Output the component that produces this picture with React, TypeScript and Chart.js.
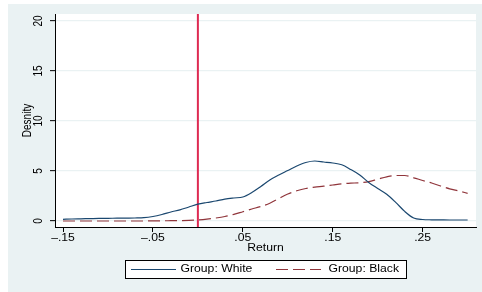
import { useEffect, useRef } from "react";
import { Chart, registerables } from "chart.js";

Chart.register(...registerables);

// ---- data ----
const returns = [
  -0.15, -0.14, -0.13, -0.12, -0.11, -0.1, -0.09, -0.08, -0.07, -0.06,
  -0.05, -0.04, -0.03, -0.02, -0.01, 0.0, 0.01, 0.02, 0.03, 0.04,
  0.05, 0.06, 0.07, 0.08, 0.09, 0.1, 0.11, 0.12, 0.13, 0.14,
  0.15, 0.16, 0.17, 0.18, 0.19, 0.2, 0.21, 0.22, 0.23, 0.24,
  0.25, 0.26, 0.27, 0.28, 0.29, 0.3,
];
const densityWhite = [
  0.17, 0.2, 0.22, 0.24, 0.26, 0.27, 0.28, 0.29, 0.3, 0.33,
  0.45, 0.65, 0.9, 1.12, 1.4, 1.68, 1.85, 2.0, 2.18, 2.3,
  2.4, 2.85, 3.45, 4.1, 4.6, 5.05, 5.5, 5.85, 6.0, 5.9,
  5.8, 5.62, 5.15, 4.6, 3.85, 3.25, 2.67, 1.86, 0.96, 0.3,
  0.15, 0.12, 0.11, 0.1, 0.1, 0.1,
];
const densityBlack = [
  0.0, 0.0, 0.0, 0.0, 0.0, 0.0, 0.0, 0.0, 0.0, 0.0,
  0.01, 0.02, 0.03, 0.04, 0.06, 0.1, 0.18, 0.3, 0.45, 0.66,
  0.93, 1.2, 1.45, 1.78, 2.25, 2.7, 3.02, 3.25, 3.38, 3.48,
  3.6, 3.72, 3.78, 3.83, 3.93, 4.18, 4.42, 4.55, 4.55, 4.32,
  4.05, 3.8, 3.5, 3.22, 3.0, 2.77,
];
const seriesLabels = ["Group: White", "Group: Black"];
const xTickValues = [-0.15, -0.05, 0.05, 0.15, 0.25];
const xTickLabels = ["\u2013.15", "\u2013.05", ".05", ".15", ".25"];
const yTickValues = [0, 5, 10, 15, 20];
const yTickLabels = ["0", "5", "10", "15", "20"];
const referenceLineX = [0];
const xTitle = "Return";
const yTitle = "Desnity";

// ---- styles ----
const NAVY = "#1a476f";
const MAROON = "#90353b";
const REDLINE = "#de2a52";
const BG = "#eaf2f3";
const FONT = "'Liberation Sans', Arial, sans-serif";
const SX = 1.22;

function drawText(
  ctx: CanvasRenderingContext2D,
  text: string,
  x: number,
  y: number,
  size: number,
  align: CanvasTextAlign,
  rotated = false
) {
  ctx.save();
  ctx.translate(x, y);
  if (rotated) {
    ctx.rotate(-Math.PI / 2);
    ctx.scale(1, SX);
  } else {
    ctx.scale(SX, 1);
  }
  ctx.font = `${size}px ${FONT}`;
  ctx.fillStyle = "#000";
  ctx.textAlign = align;
  ctx.textBaseline = "middle";
  ctx.fillText(text, 0, 0);
  ctx.restore();
}

const backgroundPlugin = {
  id: "stataBackground",
  beforeDraw(chart: any) {
    const { ctx, chartArea: a, width, height } = chart;
    ctx.save();
    ctx.fillStyle = "#ffffff";
    ctx.fillRect(0, 0, width, height);
    ctx.fillStyle = BG;
    ctx.fillRect(8, 4, width - 8, height - 4);
    ctx.fillStyle = "#ffffff";
    ctx.fillRect(a.left, a.top, a.right - a.left, a.bottom - a.top);
    ctx.restore();
  },
};

const refLinePlugin = {
  id: "refLine",
  beforeDatasetsDraw(chart: any) {
    const { ctx, chartArea: a, scales } = chart;
    ctx.save();
    ctx.strokeStyle = REDLINE;
    ctx.lineWidth = 2;
    referenceLineX.forEach((v) => {
      const x = scales.x.getPixelForValue(v);
      ctx.beginPath();
      ctx.moveTo(x, a.top);
      ctx.lineTo(x, a.bottom);
      ctx.stroke();
    });
    ctx.restore();
  },
};

const textPlugin = {
  id: "stataText",
  afterDraw(chart: any) {
    const { ctx, chartArea: a, scales } = chart;
    // x tick labels
    xTickValues.forEach((v, i) => {
      drawText(ctx, xTickLabels[i], scales.x.getPixelForValue(v), a.bottom + 11.5, 10, "center");
    });
    // y tick labels (rotated)
    yTickValues.forEach((v, i) => {
      drawText(ctx, yTickLabels[i], a.left - 16.5, scales.y.getPixelForValue(v), 10, "center", true);
    });
    const cx = (a.left + a.right) / 2;
    drawText(ctx, xTitle, cx, a.bottom + 21.5, 10, "center");
    drawText(ctx, yTitle, a.left - 27.5, (a.top + a.bottom) / 2, 10, "center", true);

    // legend
    const lw = 281;
    const lh = 18;
    const lx = Math.round(cx - lw / 2) + 0.5;
    const ly = 260.5;
    ctx.save();
    ctx.fillStyle = "#ffffff";
    ctx.fillRect(lx, ly, lw, lh);
    ctx.strokeStyle = "#000";
    ctx.lineWidth = 1;
    ctx.strokeRect(lx, ly, lw, lh);
    const my = ly + lh / 2;
    const ds = chart.data.datasets;
    const entries = [
      { x0: lx + 5.5, tx: lx + 55 },
      { x0: lx + 150.5, tx: lx + 203 },
    ];
    entries.forEach((e, i) => {
      ctx.save();
      ctx.strokeStyle = ds[i].borderColor;
      ctx.lineWidth = ds[i].borderWidth;
      ctx.setLineDash(ds[i].borderDash || []);
      ctx.beginPath();
      ctx.moveTo(e.x0, my);
      ctx.lineTo(e.x0 + 45, my);
      ctx.stroke();
      ctx.restore();
      drawText(ctx, seriesLabels[i], e.tx, my, 10, "left");
    });
    ctx.restore();
  },
};

export default function App() {
  const canvasRef = useRef<HTMLCanvasElement | null>(null);

  useEffect(() => {
    const canvas = canvasRef.current;
    if (!canvas) return;
    const chart = new Chart(canvas, {
      type: "line",
      data: {
        datasets: [
          {
            label: seriesLabels[0],
            data: returns.map((x, i) => ({ x, y: densityWhite[i] })),
            borderColor: NAVY,
            borderWidth: 1.2,
            pointRadius: 0,
            fill: false,
            cubicInterpolationMode: "monotone",
          },
          {
            label: seriesLabels[1],
            data: returns.map((x, i) => ({ x, y: densityBlack[i] })),
            borderColor: MAROON,
            borderWidth: 1.2,
            borderDash: [12, 5],
            pointRadius: 0,
            fill: false,
            cubicInterpolationMode: "monotone",
          },
        ],
      },
      options: {
        animation: false,
        responsive: false,
        devicePixelRatio: 1,
        layout: { padding: { top: 14, right: 6, left: 0, bottom: 0 } },
        plugins: {
          legend: { display: false },
          tooltip: { enabled: false },
          title: { display: false },
        },
        scales: {
          x: {
            type: "linear",
            min: -0.1589,
            max: 0.3093,
            afterBuildTicks: (s: any) => {
              s.ticks = xTickValues.map((v) => ({ value: v }));
            },
            afterFit: (s: any) => {
              s.height = 65;
            },
            ticks: { display: false },
            grid: {
              drawOnChartArea: false,
              drawTicks: true,
              tickLength: 5,
              tickColor: "#000",
              tickWidth: 1,
            },
            border: { display: true, color: "#000", width: 1 },
          },
          y: {
            type: "linear",
            min: -0.6,
            max: 20.7,
            afterBuildTicks: (s: any) => {
              s.ticks = yTickValues.map((v) => ({ value: v }));
            },
            afterFit: (s: any) => {
              s.width = 55;
            },
            ticks: { display: false },
            grid: {
              drawOnChartArea: true,
              color: BG,
              lineWidth: 1.3,
              drawTicks: true,
              tickLength: 5,
              tickColor: "#000",
              tickWidth: 1,
            },
            border: { display: true, color: "#000", width: 1 },
          },
        },
      } as any,
      plugins: [backgroundPlugin, refLinePlugin, textPlugin],
    });
    return () => chart.destroy();
  }, []);

  return (
    <div style={{ position: "fixed", left: 0, top: 0, width: 482, height: 292 }}>
      <canvas ref={canvasRef} width={482} height={292} style={{ display: "block" }} />
    </div>
  );
}
